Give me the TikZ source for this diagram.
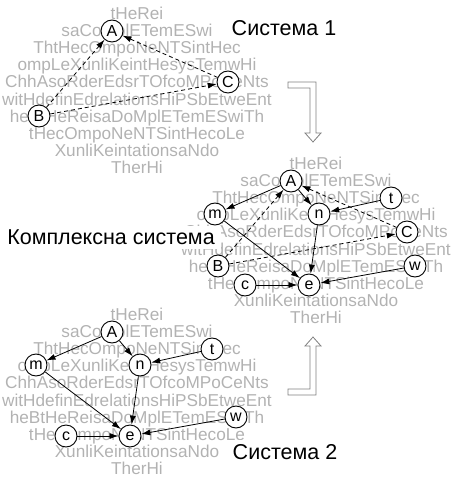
\documentclass[tikz,border=0pt]{standalone}
\usepackage{fontspec}
\setmainfont{Liberation Sans}
\usetikzlibrary{arrows.meta}

\newcommand{\systext}{tHeRei\\saCoMplETemESwi\\ThtHecOmpoNeNTSintHec\\ompLeXunliKeintHesysTemwHi\\ChhAsoRderEdsrTOfcoMPoCeNts\\witHdefinEdrelationsHiPSbEtweEnt\\heBtHeReisaDoMplETemESwiTh\\tHecOmpoNeNTSintHecoLe\\XunliKeintationsaNdo\\TherHi}

\begin{document}
\begin{tikzpicture}[x=1pt, y=-1pt,
  bgtext/.style={text=black!30, align=center, inner sep=0pt, font=\fontsize{17.2pt}{17.2pt}\selectfont},
  vertex/.style={circle, draw=black, fill=white, line width=0.9pt, minimum size=22pt, inner sep=0pt, font=\fontsize{16pt}{16pt}\selectfont},
  edge/.style={line width=0.8pt, -{Latex[length=9pt,width=6pt]}},
  link/.style={edge, dash pattern=on 4pt off 3pt},
  syslabel/.style={fill=white, inner xsep=6pt, inner ysep=4pt, font=\fontsize{21.5pt}{21.5pt}\selectfont},
  flow/.style={draw=black!50, line width=0.8pt, fill=white}]
\useasboundingbox (0,0) rectangle (454,478);

% system 1
\node[bgtext] (txt1) at (137,90.4) {\systext};
\foreach \n/\x/\y in {A/112/31, B/39/116, C/228/82}
  \node[vertex] (s1\n) at (\x,\y) {\n};
\draw[link] (s1B) -- (s1A);
\draw[link] (s1C) -- (s1A);
\draw[link] (s1B) -- (s1C);
\node[syslabel] (lab1) at (284,28) {Система 1};

% complex system
\begin{scope}[shift={(179,150)}]
\node[bgtext] (txtk) at (137,90.4) {\systext};
\end{scope}
\node[syslabel] (labk) at (111,237) {Комплексна система};
\begin{scope}[shift={(179,150)}]
\foreach \n/\x/\y in {A/112/31, B/39/116, C/228/82, m/36/64, n/140/64, t/212/48, w/236/116, c/66/135, e/130/135}
  \node[vertex] (k\n) at (\x,\y) {\n};
\end{scope}
\draw[edge] (kA) -- (km);
\draw[edge] (kA) -- (kn);
\draw[edge] (kt) -- (kn);
\draw[edge] (km) -- (ke);
\draw[edge] (kn) -- (ke);
\draw[edge] (kc) -- (ke);
\draw[edge] (kw) -- (ke);
\draw[link] (kB) -- (kA);
\draw[link] (kC) -- (kA);
\draw[link] (kB) -- (kC);

% system 2
\begin{scope}[shift={(0,301)}]
\node[bgtext] (txt2) at (137,90.4) {\systext};
\foreach \n/\x/\y in {A/112/31, m/36/64, n/140/64, t/212/48, w/236/116, c/66/135, e/130/135}
  \node[vertex] (s2\n) at (\x,\y) {\n};
\end{scope}
\draw[edge] (s2A) -- (s2m);
\draw[edge] (s2A) -- (s2n);
\draw[edge] (s2t) -- (s2n);
\draw[edge] (s2m) -- (s2e);
\draw[edge] (s2n) -- (s2e);
\draw[edge] (s2c) -- (s2e);
\draw[edge] (s2w) -- (s2e);
\node[syslabel] (lab2) at (285,452) {Система 2};

% hollow arrows between the systems
\draw[flow] (288,82) -- (316,82) -- (316,133) -- (321,133) -- (313,142)
  -- (305,133) -- (310,133) -- (310,88) -- (288,88) -- cycle;
\draw[flow] (288,395) -- (316,395) -- (316,346) -- (321,346) -- (313,337)
  -- (305,346) -- (310,346) -- (310,389) -- (288,389) -- cycle;
\end{tikzpicture}
\end{document}
